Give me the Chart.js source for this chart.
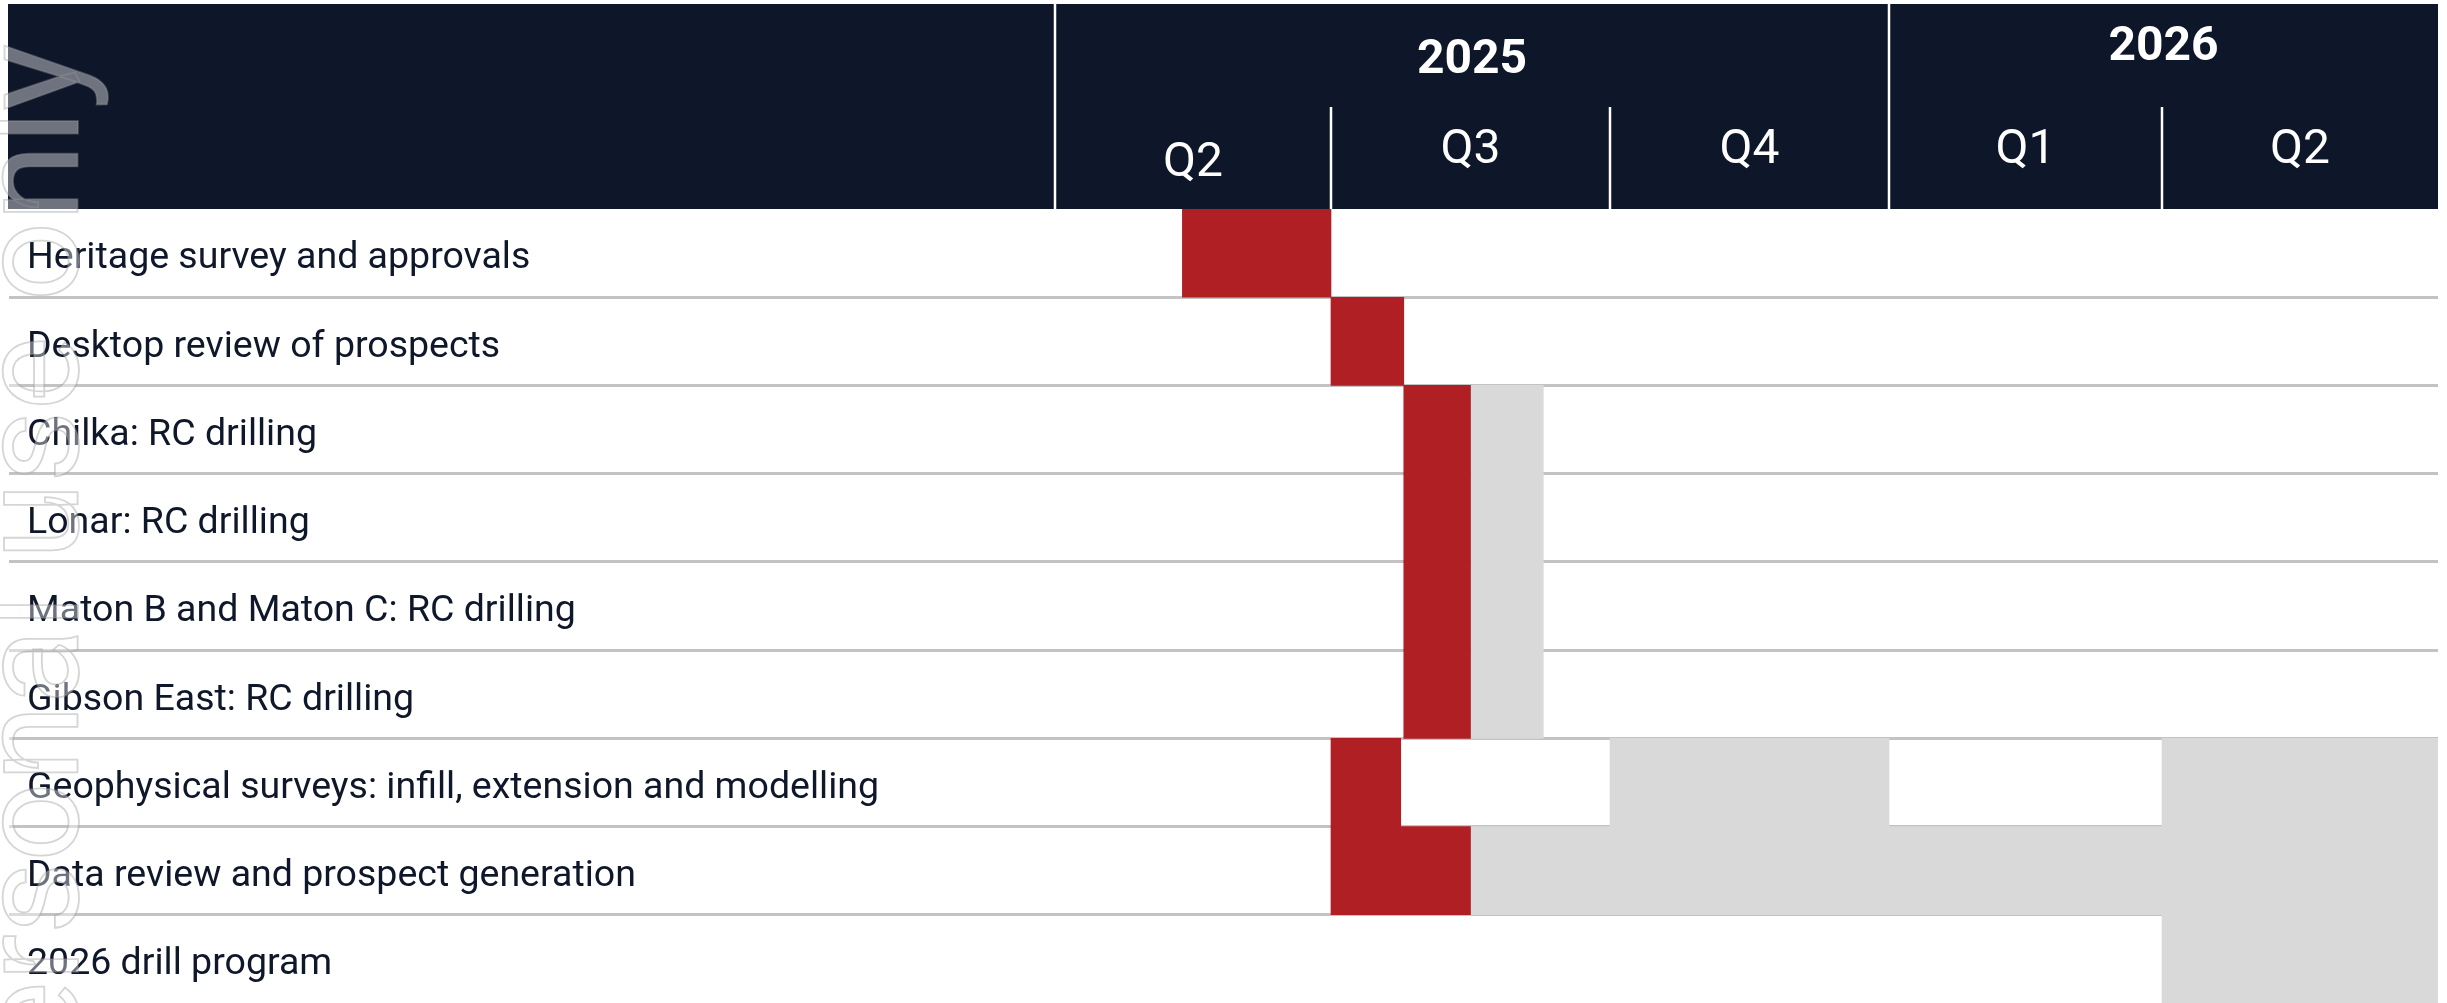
<!DOCTYPE html>
<html>
<head>
<meta charset="utf-8">
<title>Exploration timeline</title>
<script src="https://cdn.jsdelivr.net/npm/chart.js@4.4.1/dist/chart.umd.min.js"></script>
<style>
  html, body { margin: 0; padding: 0; background: #fff; }
  #wrap { position: relative; width: 2447px; height: 1003px; }
</style>
</head>
<body>
<div id="wrap"><canvas id="gantt"></canvas></div>
<script>
// timeline is in days counted from 1 April 2025
const tasks = [
  "Heritage survey and approvals",
  "Desktop review of prospects",
  "Chilka: RC drilling",
  "Lonar: RC drilling",
  "Maton B and Maton C: RC drilling",
  "Gibson East: RC drilling",
  "Geophysical surveys: infill, extension and modelling",
  "Data review and prospect generation",
  "2026 drill program"
];

const quarterLabels = ["Q2", "Q3", "Q4", "Q1", "Q2"];
const quarterEdges = [0, 91, 183, 275, 365, 456];
const yearLabels = ["2025", "2026"];
const yearEdges = [0, 275, 456];

// red = underway / scheduled, grey = planned
const activeBars = [[42, 91], [91, 115], [115, 137], [115, 137], [115, 137], [115, 137], [91, 114], [91, 137], null];
const plannedBars = [null, null, [137, 161], [137, 161], [137, 161], [137, 161], [183, 275], [137, 456], [365, 456]];
const plannedBarsLater = [null, null, null, null, null, null, [365, 456], null, null];

const NAVY = "#0e162a";
const RED = "#b01f24";
const GREY = "#d9d9d9";
const LINE = "#c3c3c3";

// dark header band with years and quarters, laid out on the x scale
const headerPlugin = {
  id: "header",
  beforeDraw(chart) {
    const { ctx } = chart;
    const x = chart.scales.x;
    const top = x.top, bottom = x.bottom;
    ctx.save();
    ctx.fillStyle = NAVY;
    ctx.fillRect(8, top, x.right - 8, bottom - top);

    ctx.strokeStyle = "#ffffff";
    ctx.lineWidth = 2.5;
    quarterEdges.slice(0, -1).forEach(v => {
      const px = Math.round(x.getPixelForValue(v));
      const y0 = yearEdges.includes(v) ? top : top + 103;
      ctx.beginPath();
      ctx.moveTo(px, y0);
      ctx.lineTo(px, bottom);
      ctx.stroke();
    });

    ctx.fillStyle = "#ffffff";
    ctx.textAlign = "center";
    ctx.textBaseline = "alphabetic";
    ctx.font = "bold 48px Roboto";
    const yearBase = [69, 56];
    yearLabels.forEach((lbl, i) => {
      const cx = (x.getPixelForValue(yearEdges[i]) + x.getPixelForValue(yearEdges[i + 1])) / 2;
      ctx.fillText(lbl, cx, top + yearBase[i]);
    });

    ctx.font = "48px Roboto";
    quarterLabels.forEach((lbl, i) => {
      const cx = (x.getPixelForValue(quarterEdges[i]) + x.getPixelForValue(quarterEdges[i + 1])) / 2;
      ctx.fillText(lbl, cx, top + (i === 0 ? 172 : 159));
    });
    ctx.restore();
  },
  // document watermark running up the left edge
  beforeDatasetsDraw(chart) {
    const { ctx } = chart;
    ctx.save();
    ctx.translate(78, 44);
    ctx.rotate(-Math.PI / 2);
    ctx.font = "140px Roboto";
    ctx.textAlign = "right";
    ctx.textBaseline = "alphabetic";
    ctx.fillStyle = "rgba(255,255,255,0.4)";
    ctx.strokeStyle = "rgba(150,150,150,0.4)";
    ctx.lineWidth = 1.8;
    ctx.fillText("For personal use only", 0, 0);
    ctx.strokeText("For personal use only", 0, 0);
    ctx.restore();
  }
};

const rowLine = c => (c.index === 0 || c.index === undefined) ? "rgba(0,0,0,0)" : LINE;

new Chart(document.getElementById("gantt"), {
  type: "bar",
  data: {
    labels: tasks,
    datasets: [
      { label: "Underway", data: activeBars, backgroundColor: RED },
      { label: "Planned", data: plannedBars, backgroundColor: GREY },
      { label: "Planned (2026)", data: plannedBarsLater, backgroundColor: GREY }
    ]
  },
  options: {
    indexAxis: "y",
    responsive: true,
    maintainAspectRatio: false,
    animation: false,
    grouped: false,
    barPercentage: 1,
    categoryPercentage: 1,
    borderWidth: 0,
    layout: { padding: { top: 4, left: 27, right: 9, bottom: 0 } },
    plugins: {
      legend: { display: false },
      tooltip: { enabled: false }
    },
    scales: {
      x: {
        type: "linear",
        position: "top",
        min: quarterEdges[0],
        max: quarterEdges[quarterEdges.length - 1],
        ticks: { display: false },
        grid: { display: false },
        border: { display: false },
        afterFit: s => { s.height = 205; s.paddingLeft = s.paddingRight = 0; }
      },
      y: {
        type: "category",
        offset: true,
        z: 1,
        border: { display: false },
        grid: {
          offset: true,
          color: rowLine,
          tickColor: rowLine,
          lineWidth: 3,
          tickLength: 1046
        },
        ticks: {
          autoSkip: false,
          crossAlign: "far",
          labelOffset: 6,
          color: "#0f172a",
          font: { family: "Roboto", size: 37.5 }
        },
        afterFit: s => { s.width = 1028; s.paddingTop = 0; s.paddingBottom = 0; }
      }
    }
  },
  plugins: [headerPlugin]
});
</script>
</body>
</html>
